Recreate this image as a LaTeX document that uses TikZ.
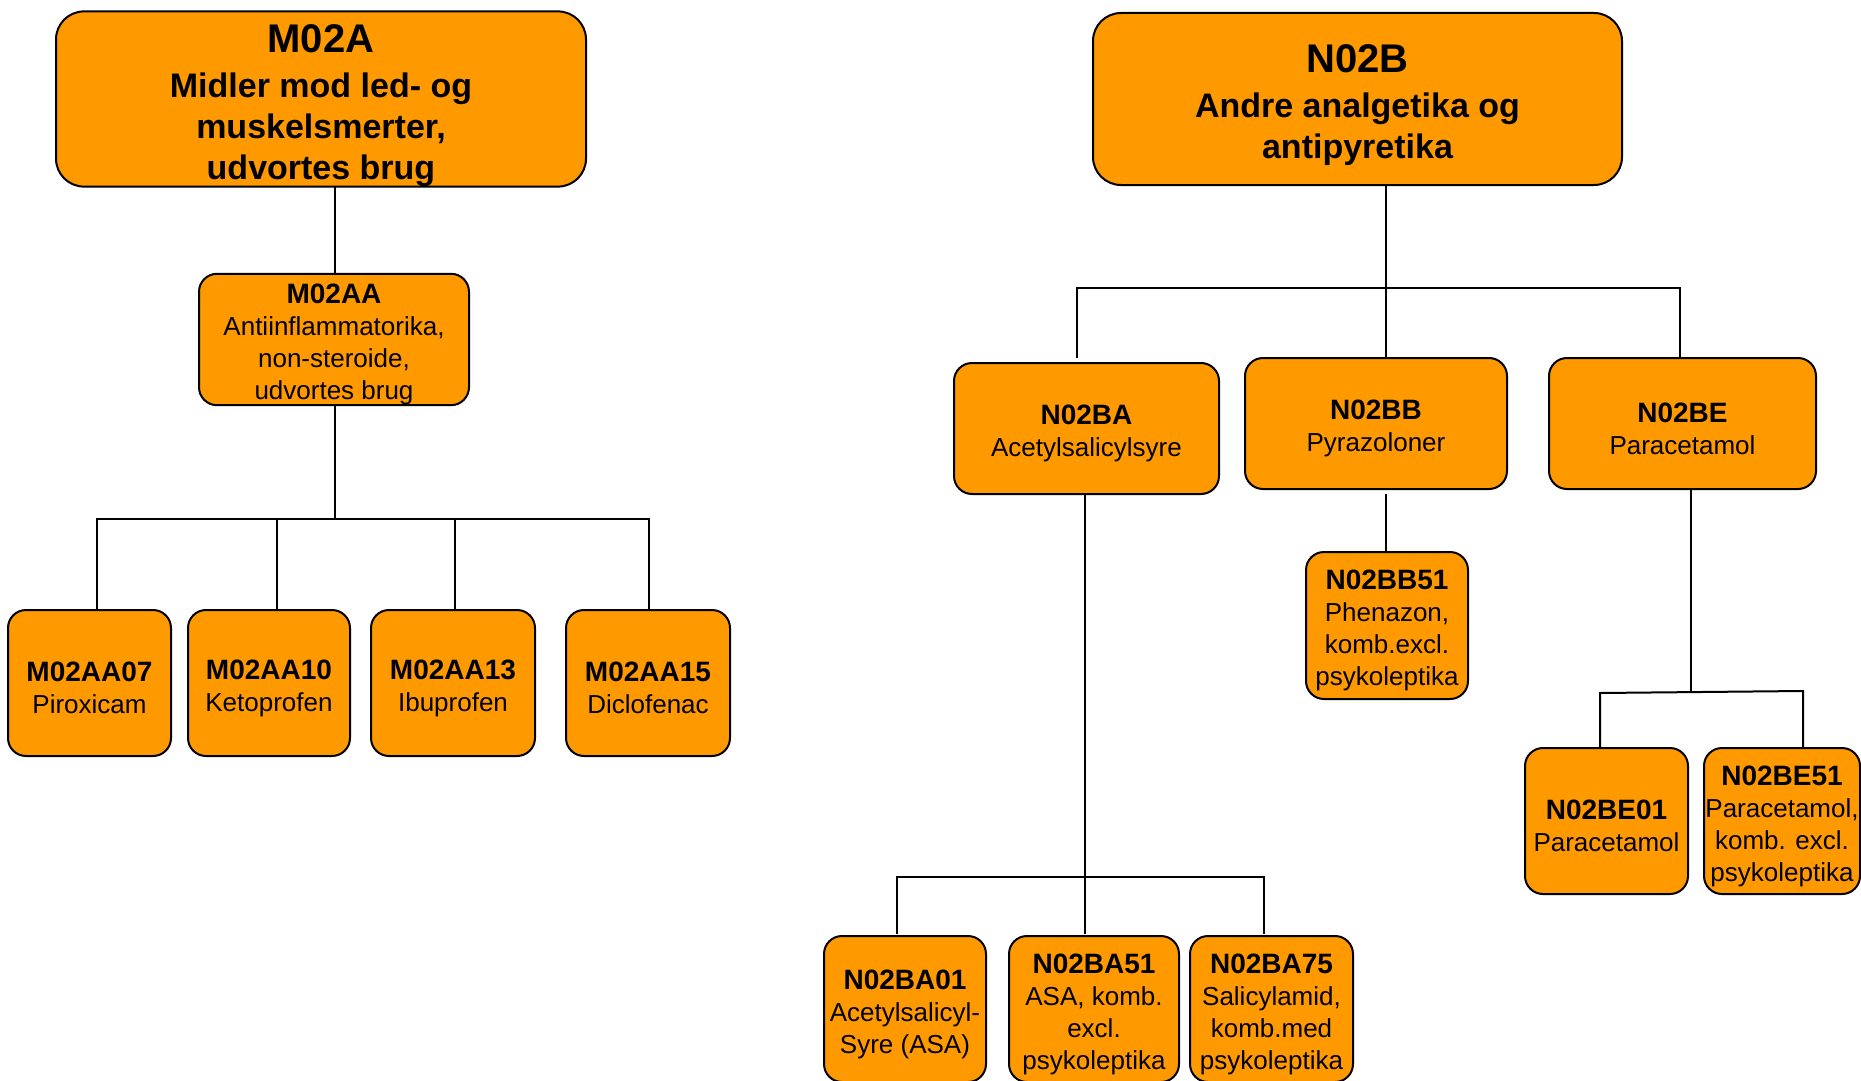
\documentclass[tikz,border=0pt]{standalone}
\usepackage{fontspec}
\setmainfont{Liberation Sans}
\definecolor{boxorange}{RGB}{255,153,0}
\newcommand\atccode[1]{{\fontsize{28}{32}\selectfont\bfseries\rule{0pt}{30pt}#1}}
\newcommand\bigtitle[1]{{\fontsize{40}{45}\selectfont\rule{0pt}{41pt}#1}}
\begin{document}
\begin{tikzpicture}[x=1pt,y=-1pt,
  box/.style={draw=black, line width=2pt, fill=boxorange, rounded corners=18pt,
    inner sep=0pt, align=center, text=black, font=\fontsize{26}{32}\selectfont},
  leaf/.style={box, minimum height=146pt},
  mid/.style={box, minimum height=131pt},
  big/.style={box, rounded corners=28pt, minimum width=530pt, minimum height=172pt,
    font=\fontsize{34}{41}\selectfont\bfseries},
  conn/.style={draw=black, line width=2pt, line cap=rect}]
\useasboundingbox (0,0) rectangle (1861,1081);

% ---------- M02A tree ----------
\node[big] (M02A) at (321,99) {\bigtitle{M02A}\\[4pt]Midler mod led- og\\muskelsmerter,\\udvortes brug};
\node[mid, minimum width=270pt] (M02AA) at (334,339.5) {\atccode{M02AA}\\Antiinflammatorika,\\non-steroide,\\udvortes brug};
\node[leaf, minimum width=163pt] (M02AA07) at (89.5,683) {\atccode{M02AA07}\\Piroxicam};
\node[leaf, minimum width=162pt] (M02AA10) at (269,683) {\atccode{M02AA10}\\Ketoprofen};
\node[leaf, minimum width=164pt] (M02AA13) at (453,683) {\atccode{M02AA13}\\Ibuprofen};
\node[leaf, minimum width=164pt] (M02AA15) at (648,683) {\atccode{M02AA15}\\Diclofenac};

\coordinate (ja) at (335,519);
\coordinate (jaL) at (97,519);
\coordinate (jaR) at (649,519);
\draw[conn] (M02A.south -| ja) -- (M02AA.north -| ja);
\draw[conn] (M02AA.south -| ja) -- (ja);
\draw[conn] (jaL |- M02AA07.north) -- (jaL) -- (jaR) -- (jaR |- M02AA15.north);
\draw[conn] (277,519) -- (277,519 |- M02AA10.north);
\draw[conn] (455,519) -- (455,519 |- M02AA13.north);

% ---------- N02B tree ----------
\node[big, minimum width=529pt] (N02B) at (1357.5,99) {\bigtitle{N02B}\\[4pt]Andre analgetika og\\antipyretika};
\node[mid, minimum width=265pt] (N02BA) at (1086.5,428.5) {\atccode{N02BA}\\Acetylsalicylsyre};
\node[mid, minimum width=262pt] (N02BB) at (1376,423.5) {\atccode{N02BB}\\Pyrazoloner};
\node[mid, minimum width=267pt] (N02BE) at (1682.5,423.5) {\atccode{N02BE}\\Paracetamol};

\node[leaf, minimum width=162pt, minimum height=147pt] (N02BB51) at (1387,625.5) {\atccode{N02BB51}\\Phenazon,\\komb.excl.\\psykoleptika};

\node[leaf, minimum width=162pt] (N02BA01) at (905,1009) {\atccode{N02BA01}\\Acetylsalicyl-\\Syre (ASA)};
\node[leaf, minimum width=170pt] (N02BA51) at (1094,1009) {\atccode{N02BA51}\\ASA, komb.\\excl.\\psykoleptika};
\node[leaf, minimum width=163pt] (N02BA75) at (1271.5,1009) {\atccode{N02BA75}\\Salicylamid,\\komb.med\\psykoleptika};

\node[leaf, minimum width=163pt] (N02BE01) at (1606.5,821) {\atccode{N02BE01}\\Paracetamol};
\node[leaf, minimum width=156pt] (N02BE51) at (1782,821) {\atccode{N02BE51}\\Paracetamol,\\komb. excl.\\psykoleptika};

% top bar
\coordinate (jb) at (1386,288);
\coordinate (jbL) at (1077,288);
\coordinate (jbR) at (1680,288);
\draw[conn] (N02B.south -| jb) -- (jb);
\draw[conn] (jbL |- N02BB.north) -- (jbL) -- (jbR) -- (jbR |- N02BE.north);
\draw[conn] (jb) -- (jb |- N02BB.north);

% N02BB -> N02BB51
\draw[conn] ([yshift=-5pt]N02BB.south -| jb) -- (jb |- N02BB51.north);

% N02BA subtree
\coordinate (jc) at (1085,877);
\coordinate (jcL) at (897,877);
\coordinate (jcR) at (1264,877);
\draw[conn] (N02BA.south -| jc) -- (jc);
\draw[conn] (jcL |- 0,933) -- (jcL) -- (jcR) -- (jcR |- 0,933);
\draw[conn] (jc) -- (jc |- 0,933);

% N02BE subtree
\coordinate (jd) at (1691,692);
\coordinate (jdL) at (1600,693);
\coordinate (jdR) at (1803,691);
\draw[conn] (N02BE.south -| jd) -- (jd);
\draw[conn] (jdL |- N02BE01.north) -- (jdL) -- (jdR) -- (jdR |- N02BE51.north);
\end{tikzpicture}
\end{document}
